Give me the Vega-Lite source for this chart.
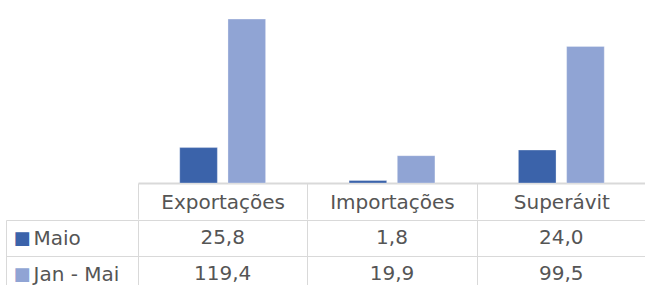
{
  "$schema": "https://vega.github.io/schema/vega-lite/v6.json",
  "padding": {"left": 5, "top": 0, "right": 0, "bottom": 0},
  "autosize": {"type": "pad"},
  "background": "#ffffff",
  "spacing": -11,
  "config": {
    "view": {"stroke": null},
    "font": "DejaVu Sans",
    "locale": {"number": {"decimal": ",", "thousands": ".", "grouping": [3], "currency": ["R$", ""]}}
  },
  "data": {
    "values": [
      {"cat": "Exportações", "serie": "Maio", "value": 25.8},
      {"cat": "Exportações", "serie": "Jan - Mai", "value": 119.4},
      {"cat": "Importações", "serie": "Maio", "value": 1.8},
      {"cat": "Importações", "serie": "Jan - Mai", "value": 19.9},
      {"cat": "Superávit", "serie": "Maio", "value": 24.0},
      {"cat": "Superávit", "serie": "Jan - Mai", "value": 99.5}
    ]
  },
  "vconcat": [
    {
      "width": 508,
      "height": 183,
      "mark": {"type": "bar", "stroke": "#ffffff", "strokeWidth": 0.6, "strokeOpacity": 0.5},
      "encoding": {
        "x": {
          "field": "cat", "type": "nominal",
          "sort": ["Exportações", "Importações", "Superávit"],
          "scale": {"paddingInner": 0, "paddingOuter": 0},
          "axis": {
            "orient": "bottom", "title": null, "grid": false,
            "domain": true, "domainColor": "#d9d9d9", "domainWidth": 2,
            "ticks": true, "tickBand": "extent", "tickSize": 36, "tickColor": "#d9d9d9", "tickWidth": 1,
            "labelAngle": 0, "labelPadding": -17, "labelBaseline": "middle",
            "labelFontSize": 20, "labelColor": "#555555", "labelFont": "DejaVu Sans"
          }
        },
        "xOffset": {
          "field": "serie", "type": "nominal", "sort": ["Maio", "Jan - Mai"],
          "scale": {"paddingInner": 0.22, "paddingOuter": 0.865}
        },
        "y": {
          "field": "value", "type": "quantitative",
          "scale": {"domain": [0, 133.3], "nice": false, "zero": true},
          "axis": null
        },
        "color": {
          "field": "serie", "type": "nominal",
          "scale": {"domain": ["Maio", "Jan - Mai"], "range": ["#3b63aa", "#90a4d4"]},
          "legend": null
        }
      }
    },
    {
      "width": 508,
      "height": 72,
      "resolve": {"scale": {"y": "independent"}, "axis": {"y": "independent"}},
      "layer": [
        {
          "mark": {"type": "text", "fontSize": 20, "color": "#555555", "font": "DejaVu Sans"},
          "encoding": {
            "x": {
              "field": "cat", "type": "nominal",
              "sort": ["Exportações", "Importações", "Superávit"],
              "scale": {"paddingInner": 0, "paddingOuter": 0},
              "axis": {
                "orient": "bottom", "title": null, "labels": false, "ticks": false, "domain": false,
                "grid": true, "tickBand": "extent", "gridColor": "#d9d9d9", "gridWidth": 1
              }
            },
            "y": {
              "field": "serie", "type": "nominal", "sort": ["Maio", "Jan - Mai"],
              "scale": {"paddingInner": 0, "paddingOuter": 0},
              "axis": {
                "orient": "left", "title": null, "domain": false,
                "grid": true, "gridColor": "#d9d9d9", "gridWidth": 1,
                "ticks": true, "tickBand": "extent", "tickSize": 132, "tickColor": "#d9d9d9", "tickWidth": 1,
                "labelAlign": "left", "labelBaseline": "middle", "labelPadding": -27,
                "labelFontSize": 20, "labelColor": "#555555", "labelFont": "DejaVu Sans"
              }
            },
            "text": {"field": "value", "type": "quantitative", "format": ".1f"}
          }
        },
        {
          "mark": {"type": "text", "opacity": 0},
          "encoding": {
            "y": {
              "field": "serie", "type": "nominal", "sort": ["Maio", "Jan - Mai"],
              "scale": {"paddingInner": 0, "paddingOuter": 0},
              "axis": {
                "orient": "left", "title": null, "offset": 132,
                "domain": true, "domainColor": "#d9d9d9", "domainWidth": 1,
                "ticks": false, "grid": false,
                "labelExpr": "'■'",
                "labelColor": {"condition": {"test": "datum.value == 'Maio'", "value": "#3b63aa"}, "value": "#90a4d4"},
                "labelAlign": "left", "labelBaseline": "middle", "labelPadding": -7,
                "labelFontSize": 18, "labelFont": "DejaVu Sans"
              }
            },
            "text": {"field": "value", "type": "quantitative", "format": ".1f"}
          }
        }
      ]
    }
  ]
}
